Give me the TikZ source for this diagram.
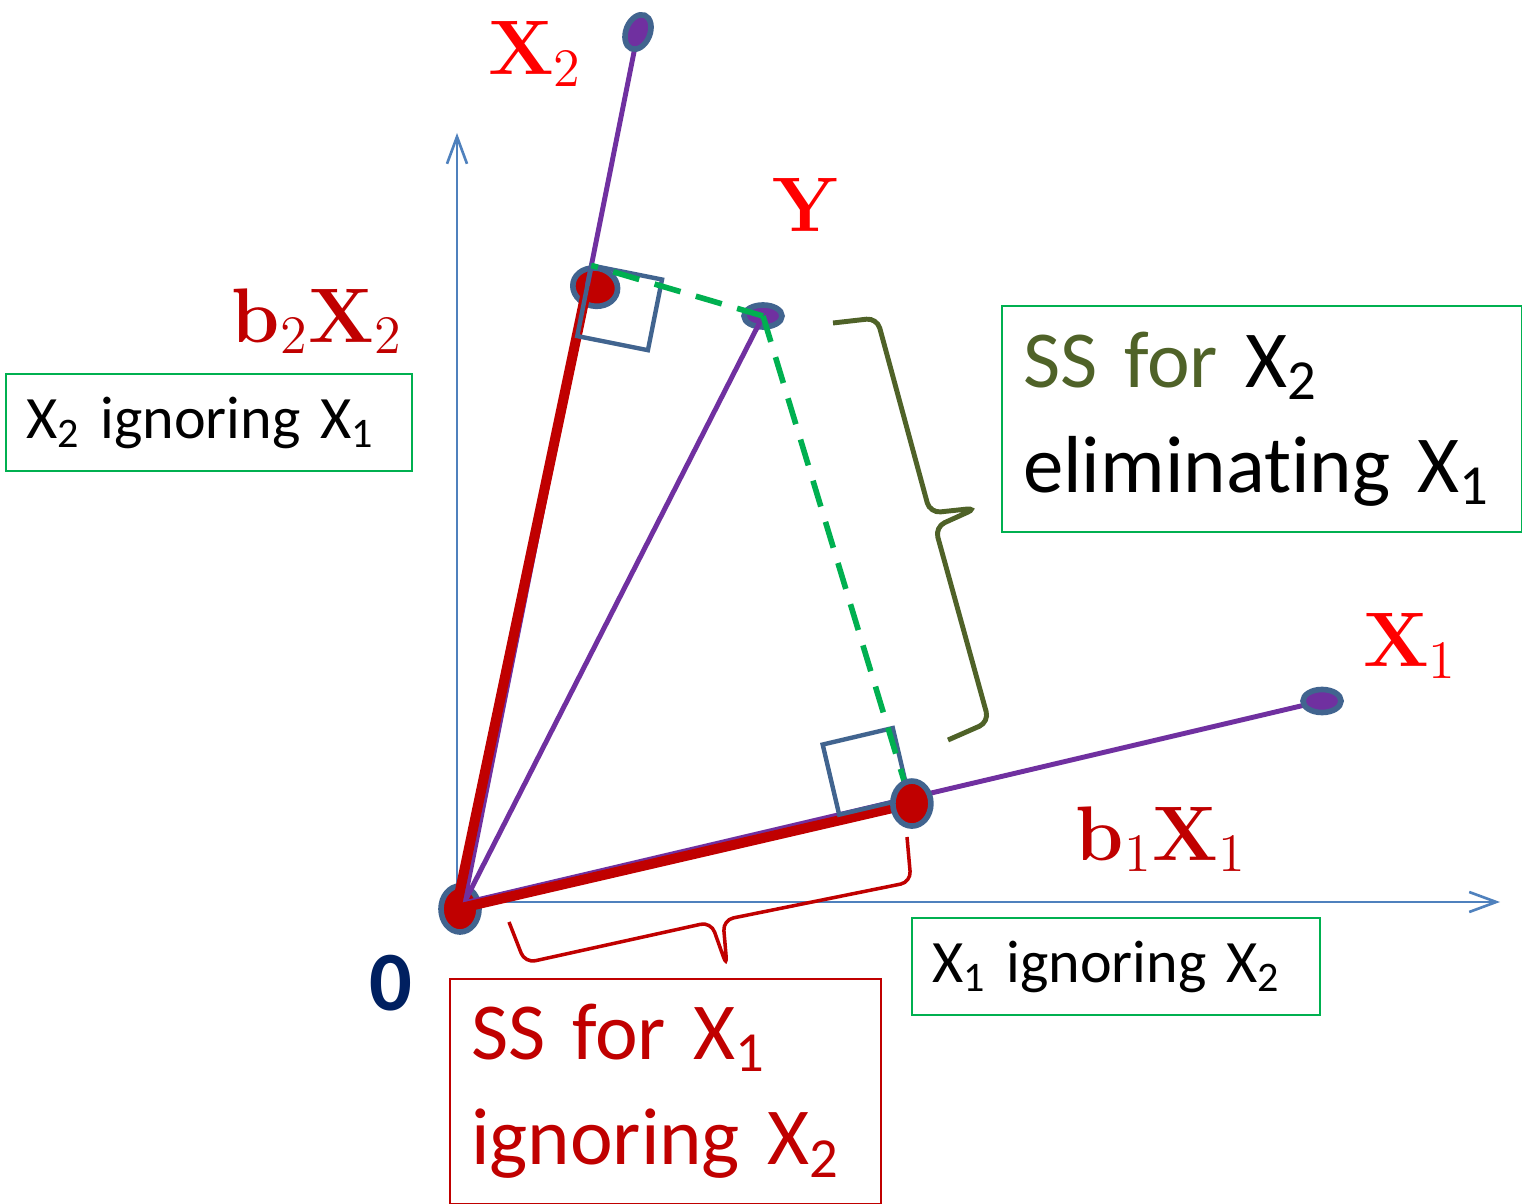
\RequirePackage{fix-cm}
\documentclass[tikz,border=0pt]{standalone}
\usepackage[no-math]{fontspec}
\setmainfont{Carlito}[Ligatures=NoCommon]
\usetikzlibrary{arrows.meta,calc,shapes.geometric}

\definecolor{vecred}{HTML}{FF0000}
\definecolor{projred}{HTML}{C00000}
\definecolor{vecpurple}{HTML}{7030A0}
\definecolor{dotline}{HTML}{41648F}
\definecolor{axisblue}{HTML}{4F81BD}
\definecolor{perpgreen}{HTML}{00B050}
\definecolor{bracegreen}{HTML}{4F6228}
\definecolor{zeronavy}{HTML}{002060}

\begin{document}
\begin{tikzpicture}[x=0.01cm, y=-0.01cm,
    dot/.style={ellipse, draw=dotline, line width=1.6pt, inner sep=0pt},
    reddot/.style={dot, fill=projred},
    purpledot/.style={dot, fill=vecpurple},
    vec/.style={vecpurple, line width=1.4pt},
    proj/.style={projred, line width=2.85pt},
    perp/.style={perpgreen, line width=1.6pt, dash pattern=on 0.27cm off 0.16cm},
    rightangle/.style={draw=dotline, line width=1.25pt},
    axis/.style={axisblue, line width=0.75pt, -{Straight Barb[length=0.27cm,width=0.2cm]}},
    veclabel/.style={font=\fontsize{22}{26}\selectfont},
    infobox/.style={draw=perpgreen, line width=0.6pt, anchor=north west, align=left, inner xsep=0.2cm, inner ysep=0pt}]
  \useasboundingbox[fill=white] (0,0) rectangle (1522,1204);

  % axes
  \coordinate (ax) at (457,902);
  \coordinate (xtip) at (1500,902);
  \coordinate (ytip) at (457,133);
  \draw[axis] (ax) -- (xtip);
  \draw[axis] (ax) -- (ytip);

  % vectors
  \coordinate (o) at (464,903);
  \coordinate (x1) at (1322,701);
  \coordinate (x2) at (638,32);
  \coordinate (y) at (763,316);
  \coordinate (p1) at ($(o)!0.522!(x1)$);
  \coordinate (p2) at ($(o)!0.709!(x2)$);
  \coordinate (q1) at ($(p1)+(0,6)$);
  \coordinate (r1) at (461,908);
  \coordinate (r2) at (457,905);
  \coordinate (f1) at ($(o)!0.519!(x1)$);
  \coordinate (f2) at ($(o)!0.732!(x2)$);

  \node[reddot, minimum width=0.38cm, minimum height=0.46cm] (O) at (460,909) {};
  \node[reddot, minimum width=0.45cm, minimum height=0.38cm, rotate=-12, xshift=0.08cm] (b2) at (p2) {};
  \node[purpledot, minimum width=0.38cm, minimum height=0.22cm] (Y) at (y) {};

  \draw[vec] (o) -- (x1);
  \draw[vec] (o) -- (x2);
  \draw[vec] (o) -- (y);
  \draw[proj] (r1) -- (q1);
  \draw[proj] (r2) -- (p2);

  \node[purpledot, minimum width=0.38cm, minimum height=0.23cm] (X1) at (x1) {};
  \node[purpledot, minimum width=0.24cm, minimum height=0.36cm, rotate=-22] (X2) at (x2) {};

  % right angles
  \coordinate (s2a) at ($(f2)!0.72cm!(o)$);
  \coordinate (s2b) at ($(f2)!0.72cm!90:(o)$);
  \coordinate (s2c) at ($(s2a)!0.72cm!-90:(f2)$);
  \draw[rightangle] (f2) -- (s2a) -- (s2c) -- (s2b) -- cycle;
  \coordinate (s1a) at ($(f1)!0.72cm!(o)$);
  \coordinate (s1b) at ($(f1)!0.72cm!-90:(o)$);
  \coordinate (s1c) at ($(s1a)!0.72cm!90:(f1)$);
  \draw[rightangle] (f1) -- (s1a) -- (s1c) -- (s1b) -- cycle;

  \draw[perp] (y) -- (f2);
  \draw[perp] (y) -- (f1);

  \node[reddot, minimum width=0.38cm, minimum height=0.45cm] (b1) at (q1) {};

  % braces
  \draw[bracegreen, line width=1.4pt, rounded corners=3pt]
    (833,323) -- (877,318) -- (930,513) -- (977,508) -- (935,527) -- (989,722) -- (948,740);
  \draw[projred, line width=1pt, rounded corners=3pt]
    (509,922) -- (525,963) -- (711,922) -- (727,967) -- (723,920) -- (911,882) -- (907,837);

  % labels
  \node[veclabel, text=vecred] (lx2) at (535,54) {$\mathbf{X}_2$};
  \node[veclabel, text=vecred] (ly) at (806,205) {$\mathbf{Y}$};
  \node[veclabel, text=vecred] (lx1) at (1410,646) {$\mathbf{X}_1$};
  \node[veclabel, text=projred] (lb2) at (317,321) {$\mathbf{b}_2\mathbf{X}_2$};
  \node[veclabel, text=projred] (lb1) at (1161,839) {$\mathbf{b}_1\mathbf{X}_1$};
  \node[font=\bfseries\fontsize{24}{28}\selectfont, text=zeronavy] (zero) at (391,983) {0};

  % boxes
  \node[infobox, text width=3.66cm, minimum height=0.97cm, font=\fontsize{17.1}{21}\selectfont] (ign2) at (5,373)
    {X\textsubscript{2} ignoring X\textsubscript{1}};
  \node[infobox, text width=3.68cm, minimum height=0.97cm, font=\fontsize{17.1}{21}\selectfont] (ign1) at (911,917)
    {X\textsubscript{1} ignoring X\textsubscript{2}};
  \node[infobox, text width=4.78cm, minimum height=2.26cm, inner xsep=0.21cm, font=\fontsize{23}{29.9}\selectfont] (ss2) at (1001,305)
    {{\color{bracegreen}SS for} X\textsubscript{2}\\eliminating X\textsubscript{1}};
  \node[infobox, draw=projred, text=projred, text width=3.89cm, minimum height=2.25cm, inner xsep=0.21cm, font=\fontsize{23}{29.9}\selectfont] (ss1) at (449,978)
    {SS for X\textsubscript{1}\\ignoring X\textsubscript{2}};
\end{tikzpicture}
\end{document}
